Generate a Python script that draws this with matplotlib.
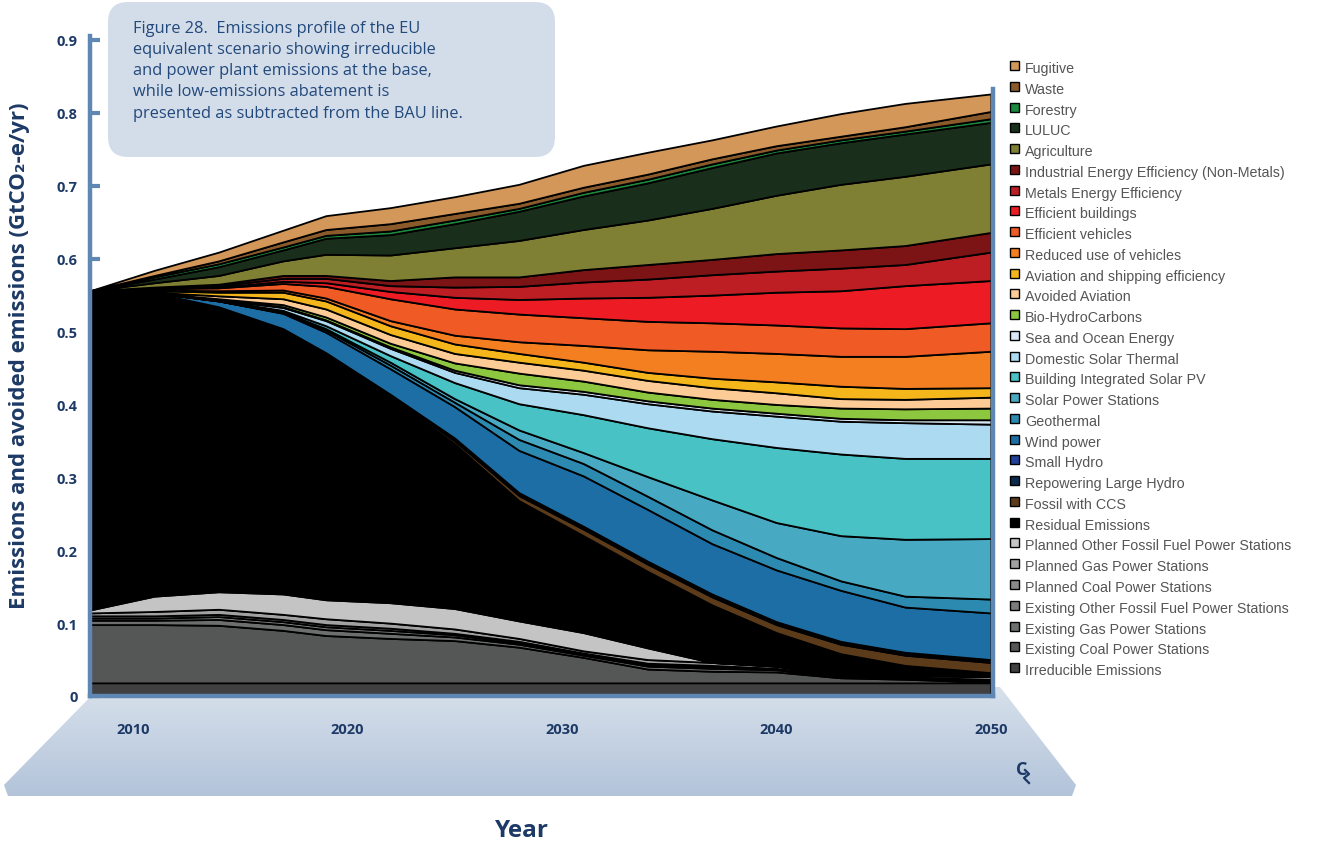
import numpy as np
import matplotlib
matplotlib.use('Agg')
import matplotlib.pyplot as plt
from matplotlib.patches import Polygon, FancyBboxPatch, Rectangle

plt.rcParams['font.family'] = ['Open Sans', 'DejaVu Sans']

# years
years = [2008, 2011, 2014, 2017, 2019, 2022, 2025, 2028, 2031, 2034, 2037, 2040, 2043, 2046, 2050]

# layer thickness (GtCO2-e/yr), stacked bottom -> top
irreducible = [0.018] * 15
existing_coal = [0.080, 0.080, 0.079, 0.072, 0.065, 0.061, 0.058, 0.049, 0.035, 0.019, 0.016, 0.015, 0.007, 0.005, 0.001]
existing_gas = [0.006, 0.006, 0.008, 0.008, 0.008, 0.007, 0.005, 0.004, 0.003, 0.004, 0.004, 0.003, 0.001, 0.001, 0.002]
existing_other = [0.003, 0.003, 0.004, 0.004, 0.004, 0.004, 0.003, 0.002, 0.002, 0.002, 0.002, 0.001, 0.001, 0.001, 0.001]
planned_coal = [0.003, 0.003, 0.003, 0.003, 0.003, 0.003, 0.002, 0.002, 0.001, 0.002, 0.002, 0.001, 0.001, 0.001, 0.001]
planned_gas = [0.004, 0.006, 0.007, 0.007, 0.008, 0.007, 0.006, 0.004, 0.003, 0.005, 0.004, 0.003, 0.001, 0.002, 0.004]
planned_other = [0.004, 0.021, 0.024, 0.028, 0.026, 0.028, 0.028, 0.024, 0.025, 0.016, 0.000, 0.000, 0.000, 0.000, 0.000]
residual = [0.438, 0.416, 0.391, 0.362, 0.337, 0.282, 0.226, 0.165, 0.133, 0.105, 0.079, 0.046, 0.029, 0.014, 0.005]
fossil_ccs = [0, 0, 0, 0, 0, 0.002, 0.004, 0.007, 0.009, 0.010, 0.011, 0.011, 0.013, 0.014, 0.014]
repowering_hydro = [0, 0, 0, 0.001, 0.001, 0.001, 0.002, 0.002, 0.002, 0.002, 0.002, 0.002, 0.002, 0.002, 0.002]
small_hydro = [0, 0, 0, 0.001, 0.001, 0.001, 0.002, 0.002, 0.002, 0.002, 0.002, 0.002, 0.002, 0.002, 0.002]
wind = [0, 0, 0.008, 0.021, 0.028, 0.035, 0.043, 0.058, 0.069, 0.071, 0.069, 0.071, 0.070, 0.062, 0.064]
geothermal = [0, 0, 0, 0.001, 0.003, 0.005, 0.006, 0.015, 0.017, 0.018, 0.019, 0.017, 0.013, 0.015, 0.019]
solar_stations = [0, 0, 0, 0.001, 0.002, 0.004, 0.005, 0.013, 0.015, 0.027, 0.041, 0.048, 0.062, 0.078, 0.083]
bipv = [0, 0, 0.001, 0.002, 0.004, 0.009, 0.022, 0.036, 0.052, 0.067, 0.084, 0.103, 0.112, 0.111, 0.110]
solar_thermal = [0, 0, 0.001, 0.004, 0.007, 0.010, 0.014, 0.022, 0.028, 0.033, 0.038, 0.043, 0.045, 0.049, 0.047]
sea_ocean = [0, 0, 0, 0.001, 0.001, 0.002, 0.003, 0.004, 0.004, 0.004, 0.004, 0.004, 0.004, 0.004, 0.006]
bio_hc = [0, 0, 0.001, 0.003, 0.004, 0.005, 0.010, 0.016, 0.014, 0.012, 0.012, 0.012, 0.014, 0.015, 0.016]
avoided_aviation = [0, 0.001, 0.004, 0.008, 0.011, 0.012, 0.013, 0.015, 0.015, 0.016, 0.016, 0.016, 0.013, 0.013, 0.015]
aviation_shipping = [0, 0.002, 0.005, 0.009, 0.011, 0.012, 0.013, 0.012, 0.011, 0.011, 0.013, 0.015, 0.017, 0.015, 0.013]
reduced_vehicles = [0, 0.001, 0.002, 0.003, 0.004, 0.007, 0.012, 0.016, 0.023, 0.031, 0.037, 0.039, 0.041, 0.044, 0.050]
efficient_vehicles = [0, 0.002, 0.004, 0.009, 0.016, 0.030, 0.036, 0.038, 0.038, 0.039, 0.039, 0.039, 0.039, 0.038, 0.039]
efficient_buildings = [0, 0, 0.001, 0.003, 0.005, 0.010, 0.016, 0.020, 0.027, 0.033, 0.038, 0.045, 0.051, 0.059, 0.058]
metals_ee = [0, 0.001, 0.002, 0.004, 0.006, 0.008, 0.014, 0.018, 0.022, 0.025, 0.028, 0.029, 0.031, 0.029, 0.039]
industrial_ee = [0, 0.001, 0.002, 0.004, 0.004, 0.007, 0.014, 0.013, 0.017, 0.020, 0.021, 0.024, 0.025, 0.026, 0.027]
agriculture = [0, 0.006, 0.012, 0.020, 0.029, 0.035, 0.040, 0.050, 0.055, 0.061, 0.070, 0.080, 0.090, 0.095, 0.094]
luluc = [0, 0.005, 0.012, 0.015, 0.022, 0.028, 0.033, 0.040, 0.046, 0.051, 0.056, 0.058, 0.057, 0.058, 0.057]
forestry = [0, 0.003, 0.004, 0.004, 0.004, 0.005, 0.005, 0.004, 0.005, 0.005, 0.005, 0.004, 0.004, 0.004, 0.005]
waste = [0, 0.002, 0.004, 0.007, 0.008, 0.010, 0.009, 0.007, 0.007, 0.007, 0.007, 0.006, 0.005, 0.006, 0.010]
fugitive = [0, 0.007, 0.012, 0.016, 0.019, 0.022, 0.023, 0.026, 0.030, 0.030, 0.026, 0.027, 0.031, 0.032, 0.024]

layers = [
    ('Irreducible Emissions', irreducible, '#404040'),
    ('Existing Coal Power Stations', existing_coal, '#555656'),
    ('Existing Gas Power Stations', existing_gas, '#6d6e6e'),
    ('Existing Other Fossil Fuel Power Stations', existing_other, '#7b7c7c'),
    ('Planned Coal Power Stations', planned_coal, '#8a8a8a'),
    ('Planned Gas Power Stations', planned_gas, '#a2a2a2'),
    ('Planned Other Fossil Fuel Power Stations', planned_other, '#c4c4c4'),
    ('Residual Emissions', residual, '#000000'),
    ('Fossil with CCS', fossil_ccs, '#5b3b1a'),
    ('Repowering Large Hydro', repowering_hydro, '#0d2a4c'),
    ('Small Hydro', small_hydro, '#21409a'),
    ('Wind power', wind, '#1e6ea6'),
    ('Geothermal', geothermal, '#2c89b0'),
    ('Solar Power Stations', solar_stations, '#48a9c3'),
    ('Building Integrated Solar PV', bipv, '#48c2c4'),
    ('Domestic Solar Thermal', solar_thermal, '#acdaf1'),
    ('Sea and Ocean Energy', sea_ocean, '#d9e8f4'),
    ('Bio-HydroCarbons', bio_hc, '#8dc63f'),
    ('Avoided Aviation', avoided_aviation, '#fdcb95'),
    ('Aviation and shipping efficiency', aviation_shipping, '#f5b61c'),
    ('Reduced use of vehicles', reduced_vehicles, '#f47f20'),
    ('Efficient vehicles', efficient_vehicles, '#f05a24'),
    ('Efficient buildings', efficient_buildings, '#ed1c24'),
    ('Metals Energy Efficiency', metals_ee, '#bc1e24'),
    ('Industrial Energy Efficiency (Non-Metals)', industrial_ee, '#7c1416'),
    ('Agriculture', agriculture, '#7f8034'),
    ('LULUC', luluc, '#1a2f1b'),
    ('Forestry', forestry, '#1b8a3e'),
    ('Waste', waste, '#8b5a2b'),
    ('Fugitive', fugitive, '#d4975a'),
]

ytick_vals = [0, 0.1, 0.2, 0.3, 0.4, 0.5, 0.6, 0.7, 0.8, 0.9]
ytick_labels = ['0', '0.1', '0.2', '0.3', '0.4', '0.5', '0.6', '0.7', '0.8', '0.9']
xtick_vals = [2010, 2020, 2030, 2040, 2050]

navy = '#1d3a66'
frame_blue = '#5f87b3'

fig = plt.figure(figsize=(13.3, 8.45), dpi=100)

# background layer in pixel coordinates
bg = fig.add_axes([0, 0, 1, 1], zorder=0)
bg.set_xlim(0, 1330)
bg.set_ylim(845, 0)
bg.axis('off')

trap = Polygon([(100, 688), (1000, 688), (1076, 786), (1072, 797), (8, 797), (4, 786)],
               closed=True, facecolor='none', edgecolor='none')
bg.add_patch(trap)
grad = np.linspace(0, 1, 100).reshape(-1, 1)
cmap = matplotlib.colors.LinearSegmentedColormap.from_list('g', ['#d8e1ec', '#b2c3d9'])
im = bg.imshow(grad, cmap=cmap, aspect='auto', extent=(0, 1330, 800, 686), origin='upper')
im.set_clip_path(trap)

box = FancyBboxPatch((108, 3), 447, 155, boxstyle='round,pad=0,rounding_size=20',
                     facecolor='#d3dde9', edgecolor='none')
bg.add_patch(box)
bg.text(133, 21, 'Figure 28.  Emissions profile of the EU\n'
                 'equivalent scenario showing irreducible\n'
                 'and power plant emissions at the base,\n'
                 'while low-emissions abatement is\n'
                 'presented as subtracted from the BAU line.',
        ha='left', va='top', fontsize=11.8, color='#22497c', linespacing=1.43)

# C2 mark at the lower right of the axis base
bg.text(1022, 770, 'C', ha='center', va='center', fontsize=13, color=navy, fontweight='bold')
bg.plot([1025, 1029, 1024, 1029], [771, 775, 779, 784], color=navy, lw=1.6)

# legend, drawn top -> bottom
for i, (name, vals, col) in enumerate(layers[::-1]):
    yc = 68 + i * 20.76
    bg.add_patch(Rectangle((1010, yc - 6), 9, 9, facecolor=col, edgecolor='black', linewidth=1.0))
    bg.text(1025, yc + 1, name, ha='left', va='center', fontsize=10.3, color='#555555',
            family=['Liberation Sans', 'DejaVu Sans'])

# main chart
ax = fig.add_axes([90 / 1330, 1 - 697 / 845, (993 - 90) / 1330, (697 - 41) / 845], zorder=2)
ax.patch.set_visible(False)
ax.stackplot(years, *[l[1] for l in layers], colors=[l[2] for l in layers],
             edgecolor='black', linewidth=1.3)
ax.set_xlim(2008, 2050.1)
ax.set_ylim(0, 0.9)
ax.set_axisbelow(True)

ax.set_yticks(ytick_vals)
ax.set_yticklabels(ytick_labels, fontsize=10.5, fontweight='bold', color=navy)
ax.set_xticks(xtick_vals)
ax.set_xticklabels([str(v) for v in xtick_vals], fontsize=10.5, fontweight='bold', color=navy)
ax.tick_params(axis='y', direction='in', length=7, width=3, color=frame_blue, pad=9)
ax.tick_params(axis='x', length=0, pad=19)

for side in ['left', 'bottom', 'right']:
    ax.spines[side].set_color(frame_blue)
    ax.spines[side].set_linewidth(3.2)
ax.spines['top'].set_visible(False)
ax.spines['left'].set_bounds(0, 0.905)
ax.spines['right'].set_bounds(0, 0.833)

fig.text(522 / 1330, 1 - 831 / 845, 'Year', ha='center', va='center',
         fontsize=17.5, fontweight='bold', color=navy)
fig.text(20 / 1330, 1 - 356 / 845, 'Emissions and avoided emissions (GtCO\u2082-e/yr)',
         rotation=90, ha='center', va='center', fontsize=16, fontweight='bold', color=navy)

fig.savefig('out.png', dpi=100)
